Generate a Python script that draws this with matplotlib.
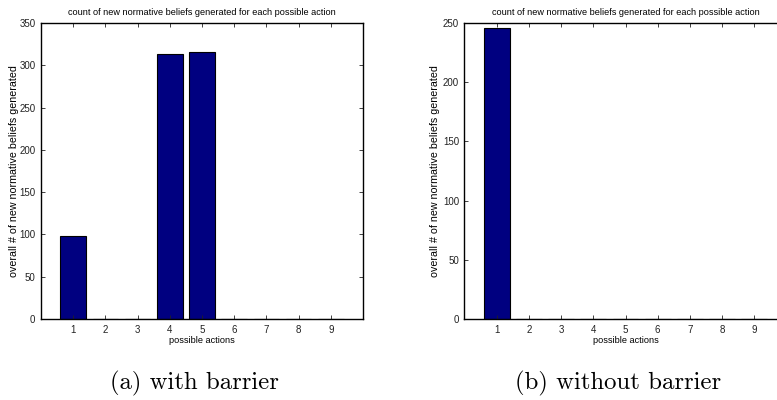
import numpy as np
import matplotlib
matplotlib.use('Agg')
import matplotlib.pyplot as plt

# ── Données ───────────────────────────────────────────────
actions = [1, 2, 3, 4, 5, 6, 7, 8, 9]
with_barrier = [98, 0, 0, 313, 316, 0, 0, 0, 0]
without_barrier = [246, 0, 0, 0, 0, 0, 0, 0, 0]
yticks_a = [0, 50, 100, 150, 200, 250, 300, 350]
yticks_b = [0, 50, 100, 150, 200, 250]
title = "count of new normative beliefs generated for each possible action"
ylabel = "overall # of new normative beliefs generated"
xlabel = "possible actions"
captions = ["(a) with barrier", "(b) without barrier"]

plt.rcParams['font.family'] = ['Liberation Sans', 'DejaVu Sans']

fig = plt.figure(figsize=(7.77, 4.0), dpi=100)
W, H = 777, 400

def panel(x0, values, yticks, caption, cap_x, ylab_x):
    ax = fig.add_axes([x0 / W, (H - 319) / H, 322 / W, 296 / H])
    ax.bar(actions, values, width=0.8, color='#000080',
           edgecolor='black', linewidth=0.8)
    ax.set_xlim(0, 10)
    ax.set_ylim(yticks[0], yticks[-1])
    ax.set_xticks(actions)
    ax.set_yticks(yticks)
    ax.tick_params(direction='in', length=3, width=0.6, labelsize=7,
                   top=True, right=True, pad=4, colors='#222222')
    for s in ax.spines.values():
        s.set_linewidth(1.0)
    ax.set_title(title, fontsize=6.6, pad=6)
    ax.set_xlabel(xlabel, fontsize=6.6, labelpad=1)
    ax.set_ylabel(ylabel, fontsize=7.7, va='center')
    ax.yaxis.set_label_coords((ylab_x - x0) / 322, 0.5)
    fig.text(cap_x / W, 1 - 383 / H, caption, family='cmr10',
             fontsize=17.8, ha='center', va='center')
    return ax

panel(41, with_barrier, yticks_a, captions[0], 194, 14.5)
panel(464.5, without_barrier, yticks_b, captions[1], 618, 435)

plt.savefig("out.png", dpi=100)
plt.close()
